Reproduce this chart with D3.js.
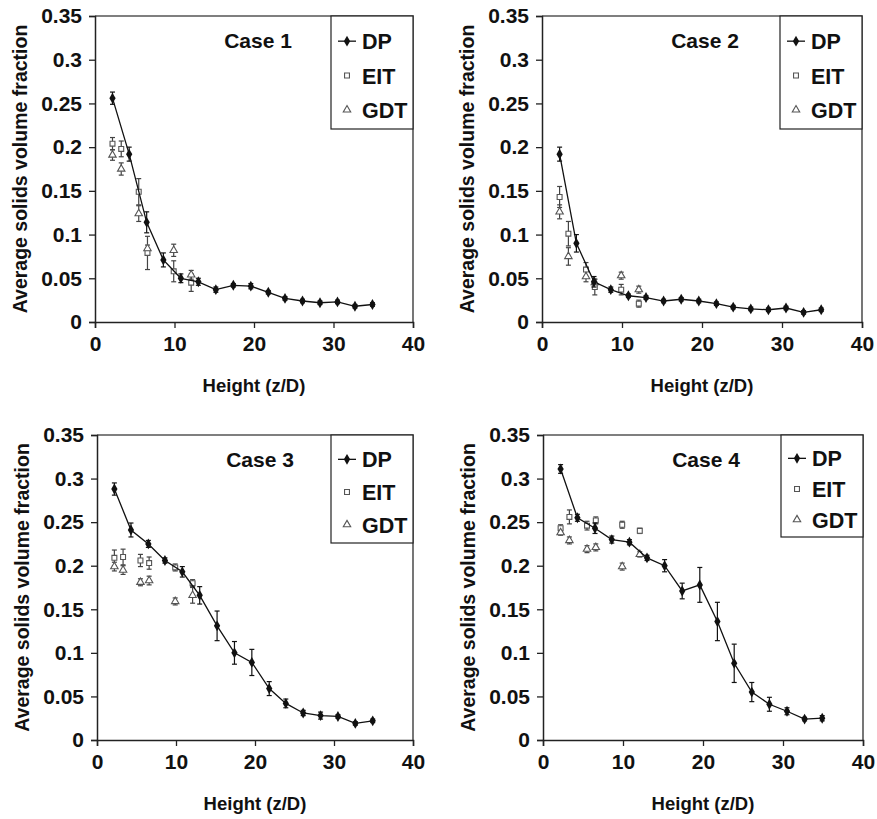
<!DOCTYPE html>
<html>
<head>
<meta charset="utf-8">
<script src="https://cdn.jsdelivr.net/npm/d3@7"></script>
<style>
  body { margin: 0; background: #fff; }
  text { font-family: "Liberation Sans", Arial, sans-serif; font-weight: bold; fill: #111; }
</style>
</head>
<body>
<script>
// heights (z/D) of the DP taps and of the EIT/GDT planes
const dpZ = [2.2, 4.3, 6.5, 8.6, 10.8, 13.0, 15.2, 17.4, 19.6, 21.8, 23.9, 26.1, 28.3, 30.5, 32.7, 34.9];
const probeZ = [2.2, 3.3, 5.5, 6.6, 9.9, 12.1];

const xTicks = [0, 10, 20, 30, 40];
const yTicks = [0, 0.05, 0.1, 0.15, 0.2, 0.25, 0.3, 0.35];
const yTickLabels = ["0", "0.05", "0.1", "0.15", "0.2", "0.25", "0.3", "0.35"];
const seriesNames = ["DP", "EIT", "GDT"];
const caseNames = ["Case 1", "Case 2", "Case 3", "Case 4"];

// Case 1
const dp1 = [0.256, 0.192, 0.114, 0.071, 0.050, 0.046, 0.037, 0.042, 0.041, 0.034, 0.027, 0.024, 0.022, 0.023, 0.018, 0.020];
const dp1Err = [0.007, 0.008, 0.012, 0.008, 0.005, 0.004, 0.003, 0.002, 0.003, 0.002, 0.002, 0.002, 0.002, 0.002, 0.002, 0.002];
const eit1 = [0.204, 0.198, 0.149, 0.079, 0.058, 0.045];
const eit1Err = [0.007, 0.009, 0.015, 0.019, 0.012, 0.010];
const gdt1 = [0.191, 0.175, 0.124, 0.084, 0.082, 0.054];
const gdt1Err = [0.006, 0.007, 0.009, 0.004, 0.007, 0.005];

// Case 2
const dp2 = [0.192, 0.090, 0.046, 0.037, 0.030, 0.028, 0.024, 0.026, 0.024, 0.021, 0.017, 0.015, 0.014, 0.016, 0.011, 0.014];
const dp2Err = [0.008, 0.010, 0.006, 0.003, 0.002, 0.002, 0.002, 0.002, 0.002, 0.002, 0.002, 0.002, 0.002, 0.002, 0.002, 0.002];
const eit2 = [0.143, 0.101, 0.060, 0.040, 0.037, 0.021];
const eit2Err = [0.012, 0.014, 0.008, 0.009, 0.006, 0.004];
const gdt2 = [0.126, 0.075, 0.052, 0.045, 0.053, 0.037];
const gdt2Err = [0.008, 0.010, 0.006, 0.004, 0.004, 0.004];

// Case 3
const dp3 = [0.288, 0.241, 0.225, 0.206, 0.193, 0.166, 0.131, 0.100, 0.089, 0.059, 0.042, 0.031, 0.028, 0.027, 0.019, 0.022];
const dp3Err = [0.007, 0.008, 0.004, 0.003, 0.006, 0.010, 0.017, 0.013, 0.015, 0.008, 0.005, 0.003, 0.004, 0.002, 0.002, 0.002];
const eit3 = [0.209, 0.210, 0.206, 0.203, 0.198, 0.180];
const eit3Err = [0.009, 0.009, 0.007, 0.007, 0.004, 0.004];
const gdt3 = [0.199, 0.195, 0.181, 0.183, 0.159, 0.166];
const gdt3Err = [0.005, 0.005, 0.004, 0.005, 0.004, 0.009];

// Case 4
const dp4 = [0.311, 0.255, 0.243, 0.230, 0.227, 0.209, 0.200, 0.171, 0.178, 0.136, 0.088, 0.055, 0.041, 0.033, 0.024, 0.025];
const dp4Err = [0.005, 0.004, 0.006, 0.004, 0.003, 0.003, 0.007, 0.009, 0.020, 0.022, 0.022, 0.011, 0.008, 0.004, 0.002, 0.003];
const eit4 = [0.243, 0.256, 0.246, 0.252, 0.247, 0.240];
const eit4Err = [0.004, 0.008, 0.005, 0.004, 0.004, 0.003];
const gdt4 = [0.238, 0.229, 0.219, 0.221, 0.199, 0.213];
const gdt4Err = [0.003, 0.004, 0.004, 0.004, 0.004, 0.003];

const w = 877,
    h = 819;
const svg = d3.select("body")
    .append("svg")
    .attr("width", w)
    .attr("height", h);

// plot boxes, legend box height
const panels = [
    { left: 95, top: 16, right: 413, bottom: 322, legH: 113, dp: dp1, dpE: dp1Err, eit: eit1, eitE: eit1Err, gdt: gdt1, gdtE: gdt1Err },
    { left: 542, top: 16, right: 862, bottom: 322, legH: 113, dp: dp2, dpE: dp2Err, eit: eit2, eitE: eit2Err, gdt: gdt2, gdtE: gdt2Err },
    { left: 97, top: 435, right: 413, bottom: 740, legH: 108, dp: dp3, dpE: dp3Err, eit: eit3, eitE: eit3Err, gdt: gdt3, gdtE: gdt3Err },
    { left: 543, top: 435, right: 863, bottom: 740, legH: 102, dp: dp4, dpE: dp4Err, eit: eit4, eitE: eit4Err, gdt: gdt4, gdtE: gdt4Err }
];

const diamond = d3.symbol().type(d3.symbolDiamond).size(34);
const square = d3.symbol().type(d3.symbolSquare).size(24);
const triangle = d3.symbol().type(d3.symbolTriangle).size(24);

var errorBars = function (g, xs, ys, es, x, y, color) {
    var eb = g.append("g").attr("stroke", color).attr("stroke-width", 1.2).attr("fill", "none");
    ys.forEach(function (v, i) {
        var cx = x(xs[i]), y0 = y(v - es[i]), y1 = y(v + es[i]);
        eb.append("line").attr("x1", cx).attr("x2", cx).attr("y1", y0).attr("y2", y1);
        eb.append("line").attr("x1", cx - 2.5).attr("x2", cx + 2.5).attr("y1", y0).attr("y2", y0);
        eb.append("line").attr("x1", cx - 2.5).attr("x2", cx + 2.5).attr("y1", y1).attr("y2", y1);
    });
}

var drawPanel = function (p, k) {
    var x = d3.scaleLinear().domain([0, 40]).range([p.left, p.right]);
    var y = d3.scaleLinear().domain([0, 0.35]).range([p.bottom, p.top]);
    var g = svg.append("g");

    // frame top + right
    g.append("path")
        .attr("d", "M" + p.left + "," + p.top + "H" + p.right + "V" + p.bottom)
        .attr("fill", "none")
        .attr("stroke", "#555")
        .attr("stroke-width", 1.6);

    var xAxis = d3.axisBottom(x).tickValues(xTicks).tickSize(6).tickPadding(8).tickFormat(d3.format("d"));
    var yAxis = d3.axisLeft(y).tickValues(yTicks).tickSize(6).tickPadding(7).tickFormat((d, i) => yTickLabels[i]);

    var gx = g.append("g")
        .attr("transform", "translate(0," + p.bottom + ")")
        .call(xAxis);
    var gy = g.append("g")
        .attr("transform", "translate(" + p.left + ",0)")
        .call(yAxis);
    [gx, gy].forEach(function (a) {
        a.select(".domain").attr("stroke", "#222").attr("stroke-width", 1.5);
        a.selectAll(".tick line").attr("stroke", "#222").attr("stroke-width", 1.3);
        a.selectAll("text").style("font-size", "21px").attr("fill", "#111");
    });

    g.append("text")
        .attr("x", (p.left + p.right) / 2)
        .attr("y", p.bottom + 70)
        .attr("text-anchor", "middle")
        .style("font-size", "18.5px")
        .text("Height (z/D)");
    g.append("text")
        .attr("transform", "translate(" + (p.left - 68) + "," + ((p.top + p.bottom) / 2) + ") rotate(-90)")
        .attr("text-anchor", "middle")
        .style("font-size", "19.5px")
        .text("Average solids volume fraction");

    g.append("text")
        .attr("x", p.left + 163)
        .attr("y", p.top + 32)
        .attr("text-anchor", "middle")
        .style("font-size", "21px")
        .text(caseNames[k]);

    // EIT and GDT
    errorBars(g, probeZ, p.eit, p.eitE, x, y, "#444");
    errorBars(g, probeZ, p.gdt, p.gdtE, x, y, "#444");
    g.selectAll(".eit")
        .data(p.eit)
        .enter()
        .append("path")
        .attr("transform", (d, i) => "translate(" + x(probeZ[i]) + "," + y(d) + ")")
        .attr("d", square)
        .attr("fill", "#fff")
        .attr("stroke", "#555")
        .attr("stroke-width", 1.1);
    g.selectAll(".gdt")
        .data(p.gdt)
        .enter()
        .append("path")
        .attr("transform", (d, i) => "translate(" + x(probeZ[i]) + "," + y(d) + ")")
        .attr("d", triangle)
        .attr("fill", "#fff")
        .attr("stroke", "#555")
        .attr("stroke-width", 1.1);

    // DP
    errorBars(g, dpZ, p.dp, p.dpE, x, y, "#111");
    g.append("path")
        .datum(p.dp)
        .attr("d", d3.line().x((d, i) => x(dpZ[i])).y((d) => y(d)))
        .attr("fill", "none")
        .attr("stroke", "#111")
        .attr("stroke-width", 1.3);
    g.selectAll(".dp")
        .data(p.dp)
        .enter()
        .append("path")
        .attr("transform", (d, i) => "translate(" + x(dpZ[i]) + "," + y(d) + ")")
        .attr("d", diamond)
        .attr("fill", "#111");

    // legend
    var lx = p.right - 82, ly = p.top;
    var leg = g.append("g");
    leg.append("rect")
        .attr("x", lx).attr("y", ly)
        .attr("width", 82).attr("height", p.legH)
        .attr("fill", "#fff")
        .attr("stroke", "#222")
        .attr("stroke-width", 1.2);
    var step = (p.legH - 10) / 3;
    seriesNames.forEach(function (s, i) {
        var yy = ly + 8 + step * (i + 0.5);
        var mx = lx + 16;
        if (i == 0) {
            leg.append("line").attr("x1", mx - 9).attr("x2", mx + 9).attr("y1", yy).attr("y2", yy)
                .attr("stroke", "#111").attr("stroke-width", 1.3);
            leg.append("path").attr("transform", "translate(" + mx + "," + yy + ")").attr("d", diamond).attr("fill", "#111");
        } else {
            leg.append("path").attr("transform", "translate(" + mx + "," + yy + ")")
                .attr("d", i == 1 ? square : triangle)
                .attr("fill", "#fff").attr("stroke", "#555").attr("stroke-width", 1.1);
        }
        leg.append("text")
            .attr("x", lx + 31)
            .attr("y", yy + 8)
            .style("font-size", "21.5px")
            .text(s);
    });
}

panels.forEach(drawPanel);
</script>
</body>
</html>
